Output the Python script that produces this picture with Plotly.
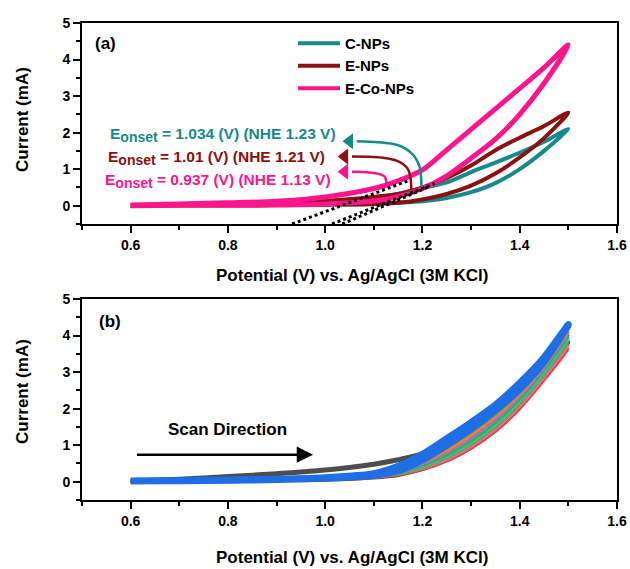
import plotly.graph_objects as go

# ---------------- data: panel (a) ----------------
V_FWD = [0.6, 0.7, 0.8, 0.9, 1.0, 1.1, 1.15, 1.2, 1.25, 1.3, 1.35, 1.4, 1.45, 1.5]
V_REV = [1.5, 1.45, 1.4, 1.35, 1.3, 1.25, 1.2, 1.15, 1.1, 1.0, 0.9, 0.8, 0.7, 0.6]

SERIES = ["C-NPs", "E-NPs", "E-Co-NPs"]
SERIES_COLORS = ["#168A8A", "#8B1010", "#FF148C"]

C_NPS_FWD = [0.01, 0.03, 0.05, 0.08, 0.13, 0.22, 0.32, 0.48, 0.64, 0.92, 1.18, 1.45, 1.75, 2.10]
C_NPS_REV = [2.10, 1.50, 1.00, 0.62, 0.37, 0.21, 0.12, 0.08, 0.05, 0.03, 0.02, 0.01, 0.01, 0.00]
E_NPS_FWD = [0.01, 0.03, 0.05, 0.08, 0.13, 0.24, 0.32, 0.50, 0.76, 1.10, 1.52, 1.86, 2.18, 2.55]
E_NPS_REV = [2.55, 1.85, 1.32, 0.88, 0.55, 0.32, 0.17, 0.08, 0.05, 0.03, 0.02, 0.01, 0.01, 0.00]
ECO_FWD = [0.02, 0.05, 0.08, 0.12, 0.24, 0.47, 0.68, 0.98, 1.53, 2.09, 2.65, 3.21, 3.78, 4.40]
ECO_REV = [4.40, 3.35, 2.50, 1.82, 1.30, 0.82, 0.47, 0.25, 0.13, 0.05, 0.02, 0.01, 0.01, 0.00]

# onset annotations
SUB = '<sub><span style="font-size:14px">onset</span></sub>'
ONSET_TEXT = ["E" + SUB + " = 1.034 (V) (NHE 1.23 V)",
              "E" + SUB + " = 1.01 (V) (NHE 1.21 V)",
              "E" + SUB + " = 0.937 (V) (NHE 1.13 V)"]

# curved pointer arrows (potential, current)
ARROW_C_X = [1.198, 1.197, 1.194, 1.184, 1.172, 1.157, 1.135, 1.109, 1.065]
ARROW_C_Y = [0.52, 0.80, 1.07, 1.34, 1.50, 1.62, 1.70, 1.74, 1.765]
ARROW_E_X = [1.177, 1.176, 1.171, 1.160, 1.143, 1.118, 1.088, 1.055]
ARROW_E_Y = [0.43, 0.70, 0.98, 1.14, 1.25, 1.315, 1.34, 1.345]
ARROW_ECO_X = [1.126, 1.125, 1.122, 1.114, 1.102, 1.085, 1.068, 1.055]
ARROW_ECO_Y = [0.57, 0.70, 0.80, 0.855, 0.89, 0.915, 0.93, 0.932]
ARROW_TIPS_X = [1.050, 1.040, 1.040]
ARROW_TIPS_Y = [1.765, 1.345, 0.932]

# tangent (onset) lines
TAN_ECO_X = [0.932, 1.174]
TAN_ECO_Y = [-0.50, 0.70]
TAN_E_X = [1.014, 1.225]
TAN_E_Y = [-0.50, 0.61]
TAN_C_X = [1.035, 1.210]
TAN_C_Y = [-0.50, 0.50]

# ---------------- data: panel (b) ----------------
CYCLE_COLORS = ["#4D4D4D", "#FF3B3B", "#D070C0", "#8C9A1A", "#1FC8C8",
                "#3CB043", "#A070D8", "#FF7F0E", "#20A0A8", "#1E6EE6"]
CYCLE_WIDTHS = [5, 3, 3, 3, 3, 3, 3, 3, 3, 7]
CYCLES_FWD = [
    [0.02, 0.07, 0.14, 0.22, 0.32, 0.48, 0.60, 0.76, 1.05, 1.45, 1.95, 2.50, 3.10, 3.80],
    [0.01, 0.02, 0.03, 0.05, 0.08, 0.16, 0.25, 0.45, 0.80, 1.22, 1.70, 2.28, 2.90, 3.62],
    [0.01, 0.02, 0.03, 0.05, 0.08, 0.16, 0.26, 0.48, 0.84, 1.27, 1.76, 2.35, 2.98, 3.72],
    [0.01, 0.02, 0.03, 0.05, 0.08, 0.17, 0.27, 0.51, 0.89, 1.33, 1.82, 2.42, 3.06, 3.82],
    [0.01, 0.02, 0.04, 0.06, 0.09, 0.17, 0.28, 0.54, 0.93, 1.38, 1.88, 2.48, 3.14, 3.92],
    [0.01, 0.02, 0.04, 0.06, 0.09, 0.18, 0.29, 0.57, 0.98, 1.44, 1.94, 2.54, 3.21, 4.00],
    [0.02, 0.03, 0.04, 0.06, 0.09, 0.18, 0.30, 0.60, 1.02, 1.49, 1.99, 2.59, 3.27, 4.08],
    [0.02, 0.03, 0.04, 0.06, 0.10, 0.19, 0.31, 0.63, 1.06, 1.54, 2.03, 2.63, 3.32, 4.16],
    [0.02, 0.03, 0.05, 0.07, 0.10, 0.20, 0.34, 0.68, 1.12, 1.58, 2.06, 2.66, 3.36, 4.24],
    [0.02, 0.03, 0.05, 0.07, 0.11, 0.22, 0.42, 0.75, 1.18, 1.62, 2.10, 2.70, 3.40, 4.30],
]
CYCLES_REV = [
    [3.80, 2.85, 2.05, 1.42, 0.95, 0.60, 0.36, 0.20, 0.13, 0.07, 0.05, 0.03, 0.02, 0.01],
    [3.62, 2.78, 2.00, 1.38, 0.92, 0.57, 0.34, 0.19, 0.12, 0.07, 0.05, 0.03, 0.02, 0.01],
    [3.72, 2.86, 2.07, 1.44, 0.97, 0.61, 0.37, 0.21, 0.13, 0.07, 0.05, 0.03, 0.02, 0.01],
    [3.82, 2.93, 2.13, 1.50, 1.02, 0.65, 0.39, 0.22, 0.14, 0.08, 0.05, 0.03, 0.02, 0.01],
    [3.92, 3.00, 2.20, 1.56, 1.07, 0.69, 0.42, 0.24, 0.15, 0.08, 0.05, 0.03, 0.02, 0.01],
    [4.00, 3.06, 2.26, 1.62, 1.12, 0.73, 0.45, 0.25, 0.16, 0.09, 0.05, 0.04, 0.02, 0.01],
    [4.08, 3.12, 2.33, 1.70, 1.20, 0.80, 0.49, 0.27, 0.16, 0.09, 0.06, 0.04, 0.03, 0.02],
    [4.16, 3.18, 2.40, 1.78, 1.28, 0.86, 0.53, 0.28, 0.17, 0.10, 0.06, 0.04, 0.03, 0.02],
    [4.24, 3.22, 2.46, 1.86, 1.36, 0.94, 0.57, 0.29, 0.18, 0.10, 0.06, 0.04, 0.03, 0.02],
    [4.30, 3.28, 2.54, 1.96, 1.45, 1.00, 0.60, 0.30, 0.18, 0.10, 0.06, 0.04, 0.03, 0.02],
]
SCAN_X = [0.61, 0.975]
SCAN_Y = 0.74

X_TITLE = "Potential (V) vs. Ag/AgCl (3M KCl)"
Y_TITLE = "Current (mA)"

# ---------------- figure ----------------
FONT = "Liberation Sans, Arial, sans-serif"
W, H = 630, 569

def px(x):
    return x / W

def py(y):
    return 1 - y / H

fig = go.Figure()

top_fwd = [C_NPS_FWD, E_NPS_FWD, ECO_FWD]
top_rev = [C_NPS_REV, E_NPS_REV, ECO_REV]
top_w = [4, 4, 5]
for name, col, f, r, w in zip(SERIES, SERIES_COLORS, top_fwd, top_rev, top_w):
    fig.add_trace(go.Scatter(
        x=V_FWD + V_REV[1:], y=f + r[1:], mode="lines", name=name,
        line=dict(color=col, width=w, shape="spline", smoothing=0.8),
        xaxis="x", yaxis="y", showlegend=False))

for tx, ty in [(TAN_ECO_X, TAN_ECO_Y), (TAN_E_X, TAN_E_Y), (TAN_C_X, TAN_C_Y)]:
    fig.add_trace(go.Scatter(x=tx, y=ty, mode="lines",
                             line=dict(color="black", width=3, dash="dot"),
                             xaxis="x", yaxis="y", showlegend=False))

for axx, ayy, col in [(ARROW_C_X, ARROW_C_Y, SERIES_COLORS[0]),
                      (ARROW_E_X, ARROW_E_Y, SERIES_COLORS[1]),
                      (ARROW_ECO_X, ARROW_ECO_Y, SERIES_COLORS[2])]:
    fig.add_trace(go.Scatter(x=axx, y=ayy, mode="lines",
                             line=dict(color=col, width=2.5, shape="spline", smoothing=1),
                             xaxis="x", yaxis="y", showlegend=False))
fig.add_trace(go.Scatter(x=ARROW_TIPS_X, y=ARROW_TIPS_Y, mode="markers",
                         marker=dict(symbol="triangle-left", size=14,
                                     color=SERIES_COLORS, line=dict(width=0)),
                         xaxis="x", yaxis="y", showlegend=False))

for f, r, col, w in zip(CYCLES_FWD, CYCLES_REV, CYCLE_COLORS, CYCLE_WIDTHS):
    fig.add_trace(go.Scatter(
        x=V_FWD + V_REV[1:], y=f + r[1:], mode="lines",
        line=dict(color=col, width=w, shape="spline", smoothing=0.8),
        xaxis="x2", yaxis="y2", showlegend=False))

tickfont = dict(family=FONT, size=14, color="black", weight="bold")
xcommon = dict(range=[0.5, 1.6], tick0=0.6, dtick=0.2, tickformat=".1f",
               showline=True, linecolor="black", linewidth=2, mirror=True,
               ticks="outside", ticklen=7, tickwidth=2, tickcolor="black",
               showgrid=False, zeroline=False, tickfont=tickfont, automargin=False,
               minor=dict(dtick=0.1, ticks="outside", ticklen=4, tickwidth=1.5,
                          tickcolor="black", showgrid=False))
ycommon = dict(range=[-0.5, 5], tick0=0, dtick=1,
               showline=True, linecolor="black", linewidth=2, mirror=True,
               ticks="outside", ticklen=7, tickwidth=2, tickcolor="black",
               showgrid=False, zeroline=False, tickfont=tickfont, automargin=False,
               minor=dict(dtick=0.5, ticks="outside", ticklen=4, tickwidth=1.5,
                          tickcolor="black", showgrid=False))

fig.update_layout(
    width=W, height=H, margin=dict(l=0, r=0, t=0, b=0, autoexpand=False),
    plot_bgcolor="white", paper_bgcolor="white", showlegend=False,
    xaxis=dict(domain=[px(82), px(617)], anchor="y", **xcommon),
    yaxis=dict(domain=[py(224), py(23)], anchor="x", **ycommon),
    xaxis2=dict(domain=[px(82), px(617)], anchor="y2", **xcommon),
    yaxis2=dict(domain=[py(500), py(299)], anchor="x2", **ycommon),
)

ann = []
title_font = dict(family=FONT, size=17, color="black", weight="bold")
for yc in [275, 557]:
    ann.append(dict(text=X_TITLE, x=px(352), y=py(yc), xref="paper", yref="paper",
                    showarrow=False, font=title_font, xanchor="center", yanchor="middle"))
for yc in [120, 392]:
    ann.append(dict(text=Y_TITLE, x=px(22), y=py(yc), xref="paper", yref="paper",
                    showarrow=False, font=title_font, textangle=-90,
                    xanchor="center", yanchor="middle"))
ann.append(dict(text="(a)", x=px(93), y=py(43), xref="paper", yref="paper",
                showarrow=False, font=title_font, xanchor="left", yanchor="middle"))
ann.append(dict(text="(b)", x=px(97), y=py(321), xref="paper", yref="paper",
                showarrow=False, font=title_font, xanchor="left", yanchor="middle"))

# onset labels
for txt, col, xl, yc in zip(ONSET_TEXT, SERIES_COLORS, [108, 106, 103], [135, 158, 181]):
    ann.append(dict(text=txt, x=px(xl), y=py(yc), xref="paper", yref="paper",
                    showarrow=False, xanchor="left", yanchor="middle",
                    font=dict(family=FONT, size=15.5, color=col, weight="bold")))

# manual legend
shapes = []
for i, (name, col) in enumerate(zip(SERIES, SERIES_COLORS)):
    yrow = 43.3 + 22.5 * i
    shapes.append(dict(type="line", xref="paper", yref="paper",
                       x0=px(298), x1=px(340), y0=py(yrow), y1=py(yrow),
                       line=dict(color=col, width=4)))
    ann.append(dict(text=name, x=px(343), y=py(yrow), xref="paper", yref="paper",
                    showarrow=False, xanchor="left", yanchor="middle",
                    font=dict(family=FONT, size=15, color="black", weight="bold")))

# scan direction
ann.append(dict(text="Scan Direction", x=0.8, y=1.42, xref="x2", yref="y2",
                showarrow=False, xanchor="center", yanchor="middle",
                font=dict(family=FONT, size=17, color="black", weight="bold")))
ann.append(dict(x=SCAN_X[1], y=SCAN_Y, ax=SCAN_X[0], ay=SCAN_Y,
                xref="x2", yref="y2", axref="x2", ayref="y2", text="",
                showarrow=True, arrowhead=2, arrowsize=1.3, arrowwidth=2.5,
                arrowcolor="black"))

fig.update_layout(annotations=ann, shapes=shapes)
fig.write_html("out.html")
